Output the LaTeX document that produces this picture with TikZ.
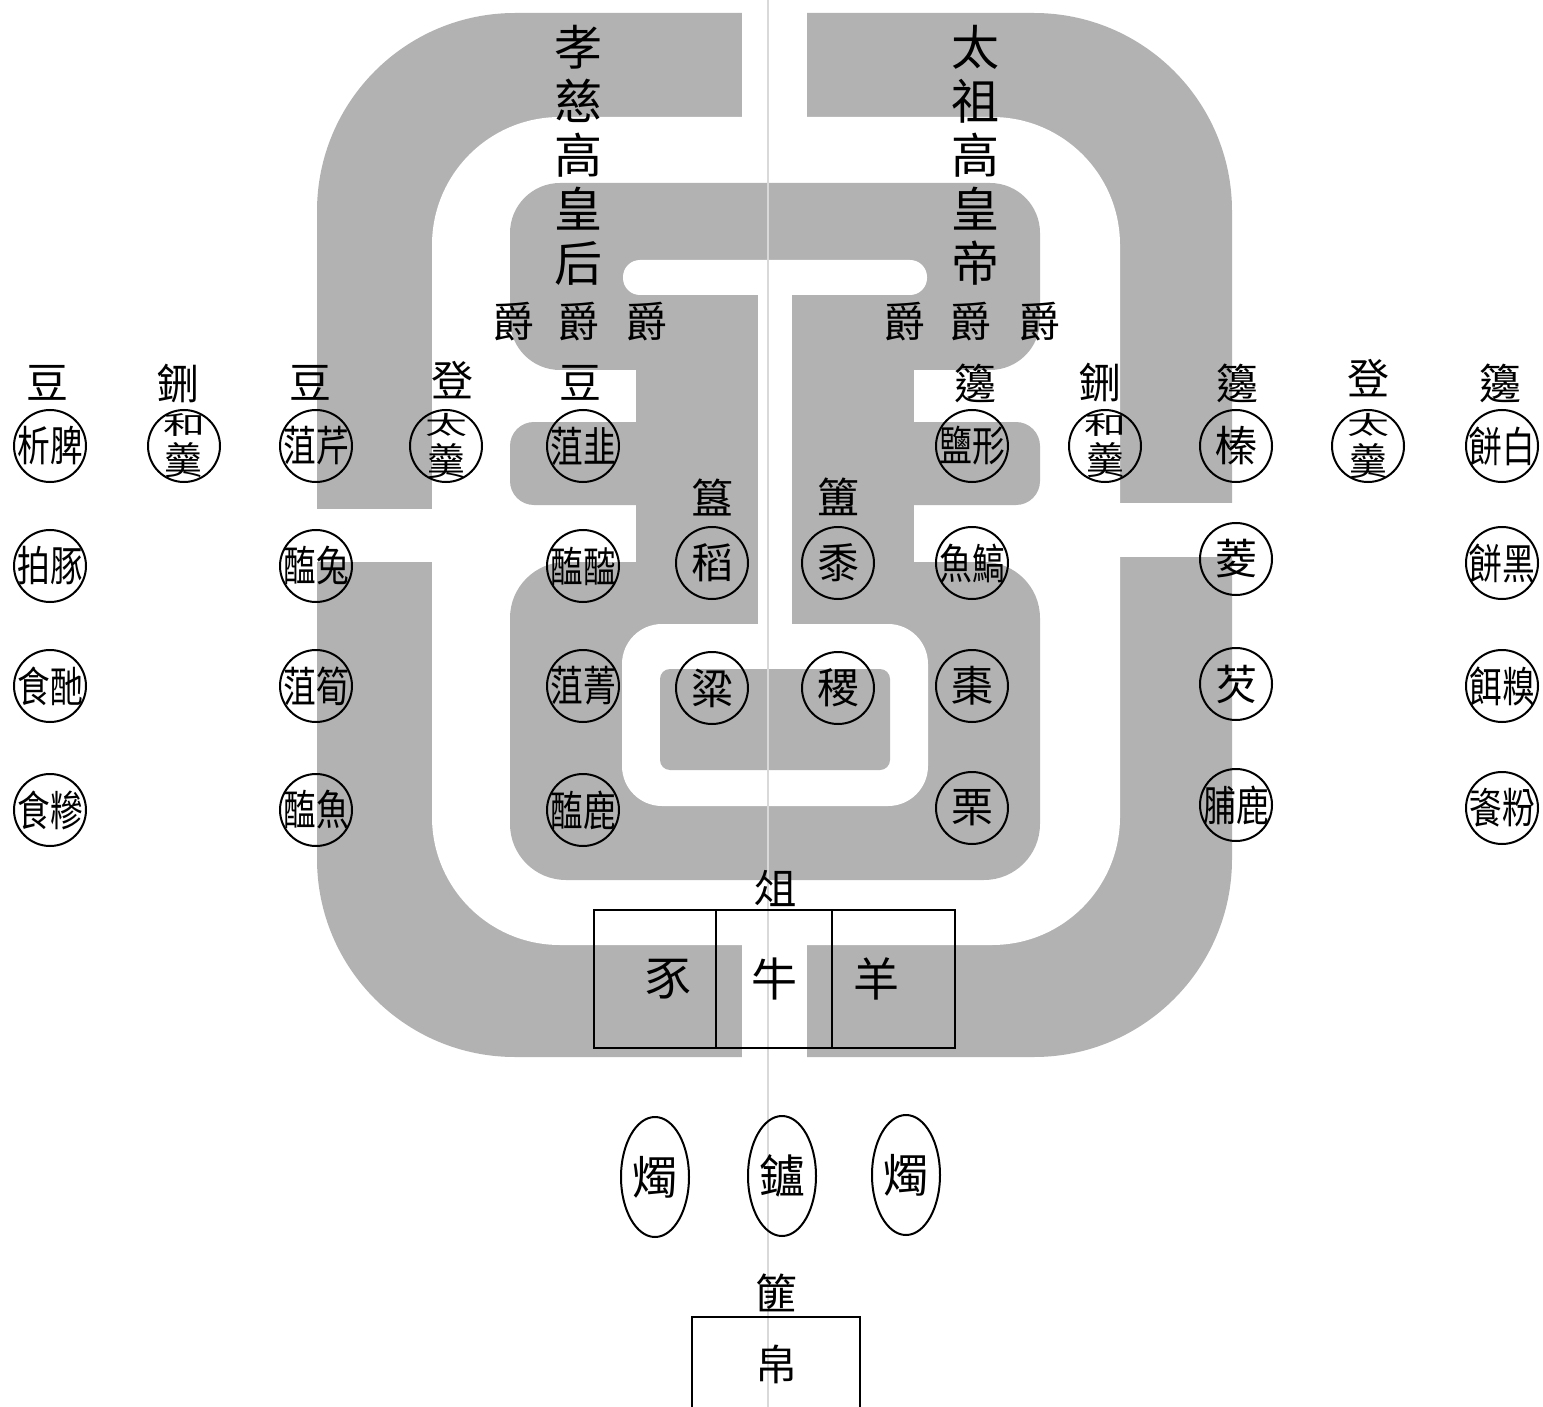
\documentclass[tikz,border=0pt]{standalone}
\usepackage{fontspec}
\newfontfamily\cjk{Noto Sans CJK TC}
\usetikzlibrary{positioning, shapes.geometric}

% two characters squeezed side by side inside a dish
\newcommand{\duo}[2]{\makebox[0pt]{\scalebox{0.78}[1]{#1#2}}}
% flattened character stacked over a second one
\newcommand{\stk}[2]{\makebox[0pt]{\shortstack{\scalebox{1}[0.6]{\fontsize{21pt}{21pt}\selectfont#1}\\{\fontsize{19pt}{19pt}\selectfont#2}}}}

\begin{document}
\begin{tikzpicture}[
	x=0.5pt, y=-0.5pt,
	font=\cjk,
	tint/.style={fill=black!30},
	hole/.style={fill=white},
	dish/.style={
		circle,
		draw,
		line width=1pt,
		minimum size=36pt,
		inner sep=0pt,
		font=\cjk\fontsize{21pt}{21pt}\selectfont
	},
	vessel/.style={inner sep=0pt, font=\cjk\fontsize{21pt}{21pt}\selectfont},
	cup/.style={inner sep=0pt, font=\cjk\fontsize{21pt}{21pt}\selectfont},
	tablet/.style={align=center, inner sep=0pt, font=\cjk\fontsize{24pt}{27pt}\selectfont},
	cell/.style={
		draw,
		line width=1pt,
		minimum height=69pt,
		inner sep=0pt,
		outer sep=0pt,
		font=\cjk\fontsize{23pt}{23pt}\selectfont
	},
	lamp/.style={
		ellipse,
		draw,
		line width=1pt,
		minimum width=34pt,
		minimum height=60pt,
		inner sep=0pt,
		font=\cjk\fontsize{23pt}{23pt}\selectfont
	}
	]
	\useasboundingbox (0,0) rectangle (1543,1407);
	\clip (0,0) rectangle (1543,1407);

	% outer grey frame with its openings
	\fill[tint, rounded corners=99pt] (317,13) rectangle (1232,1057);
	\fill[hole, rounded corners=64pt] (432,117) rectangle (1120,945);
	\fill[hole] (742,0) rectangle (807,120);
	\fill[hole] (742,940) rectangle (807,1060);
	\fill[hole] (300,509) rectangle (440,562);
	\fill[hole] (1110,503) rectangle (1245,557);

	% inner grey block, three lobes on a middle column
	\fill[tint, rounded corners=25pt] (510,183) rectangle (1040,370);
	\fill[tint, rounded corners=12pt] (510,422) rectangle (1040,505);
	\fill[tint, rounded corners=28pt] (510,562) rectangle (1040,880);
	\fill[tint] (636,250) rectangle (914,800);

	% white bar, stem and ring cut into the block
	\fill[hole, rounded corners=8.5pt] (623,260) rectangle (927,295);
	\fill[hole] (758,280) rectangle (792,640);
	\fill[hole, rounded corners=20pt] (622,624) rectangle (928,806);
	\fill[tint, rounded corners=5pt] (660,669) rectangle (890,770);

	% fold of the page
	\draw[black!15, line width=1pt] (768,0) -- (768,1407);

	% spirit tablets
	\node[tablet] (empress) at (578,155) {孝\\慈\\高\\皇\\后};
	\node[tablet] (emperor) at (975,155) {太\\祖\\高\\皇\\帝};

	% wine cups
	\foreach \x/\n in {513/cupa, 578/cupb, 646/cupc, 904/cupd, 970/cupe, 1039/cupf}
		\node[cup] (\n) at (\x,322) {爵};

	% vessel names over the rows
	\foreach \x/\y/\t/\n in {47/383/豆/va, 178/383/鉶/vb, 310/383/豆/vc, 452/380/登/vd, 580/383/豆/ve,
		975/383/籩/vf, 1100/382/鉶/vg, 1237/383/籩/vh, 1368/378/登/vi, 1500/383/籩/vj,
		712/497/簋/vk, 838/497/簠/vl}
		\node[vessel] (\n) at (\x,\y) {\t};

	% dishes, left half
	\foreach \x/\y/\t/\n in {
		50/446/{\duo{析}{脾}}/la1, 50/566/{\duo{拍}{豚}}/la2, 50/686/{\duo{食}{酏}}/la3, 50/810/{\duo{食}{糝}}/la4,
		184/446/{\stk{和}{羹}}/lb1,
		316/446/{\duo{菹}{芹}}/lc1, 316/566/{\duo{醢}{兔}}/lc2, 316/686/{\duo{菹}{筍}}/lc3, 316/810/{\duo{醢}{魚}}/lc4,
		446/446/{\stk{太}{羹}}/ld1,
		583/446/{\duo{菹}{韭}}/le1, 583/566/{\duo{醢}{醓}}/le2, 583/686/{\duo{菹}{菁}}/le3, 583/810/{\duo{醢}{鹿}}/le4}
		\node[dish] (\n) at (\x,\y) {\t};

	% grain dishes in the middle
	\foreach \x/\y/\t/\n in {712/563/稻/ma, 838/563/黍/mb, 712/688/粱/mc, 838/688/稷/md}
		\node[dish] (\n) at (\x,\y) {\t};

	% dishes, right half
	\foreach \x/\y/\t/\n in {
		972/446/{\duo{鹽}{形}}/ra1, 972/563/{\duo{魚}{鰝}}/ra2, 972/686/棗/ra3, 972/808/栗/ra4,
		1105/446/{\stk{和}{羹}}/rb1,
		1236/446/榛/rc1, 1236/559/菱/rc2, 1236/684/芡/rc3, 1236/805/{\duo{脯}{鹿}}/rc4,
		1368/446/{\stk{太}{羹}}/rd1,
		1502/446/{\duo{餅}{白}}/re1, 1502/563/{\duo{餅}{黑}}/re2, 1502/686/{\duo{餌}{糗}}/re3, 1502/808/{\duo{餈}{粉}}/re4}
		\node[dish] (\n) at (\x,\y) {\t};

	% offering table with three cells
	\node[vessel] (zu) at (775,888) {俎};
	\node[cell, minimum width=61pt] (pig) at (655,979) {\kern13pt 豕};
	\node[cell, minimum width=58pt, right=0pt of pig] (ox) {牛};
	\node[cell, minimum width=61.5pt, right=0pt of ox] (sheep) {羊\kern17pt};

	% candles and censer
	\node[lamp] (candlel) at (655,1177) {燭};
	\node[lamp] (censer) at (782,1176) {鑪};
	\node[lamp] (candler) at (906,1175) {燭};

	% silk basket
	\node[vessel] (fei) at (776,1293) {篚};
	\node[draw, line width=1pt, minimum width=84pt, minimum height=47.5pt, inner sep=0pt, anchor=north,
		font=\cjk\fontsize{21pt}{21pt}\selectfont] (silk) at (776,1316) {帛};
\end{tikzpicture}
\end{document}
